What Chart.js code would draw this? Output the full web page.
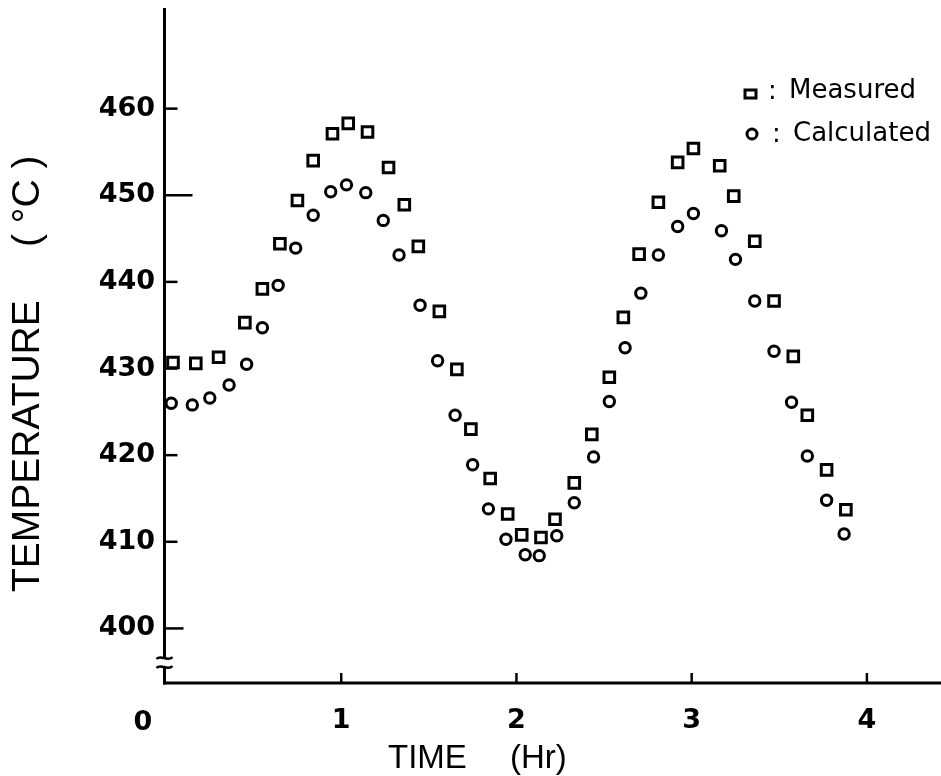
<!DOCTYPE html>
<html>
<head>
<meta charset="utf-8">
<title>Temperature vs time</title>
<script src="https://cdn.jsdelivr.net/npm/chart.js@4.4.1/dist/chart.umd.min.js"></script>
<style>
  html, body { margin: 0; padding: 0; background: #fff; }
  #wrap { width: 941px; height: 776px; }
</style>
</head>
<body>
<div id="wrap"><canvas id="chart" width="941" height="776"></canvas></div>
<script>
/**
 * Data (time in hours, temperature in °C)
 */
const measuredTime = [0.04, 0.17, 0.30, 0.45, 0.55, 0.65, 0.75, 0.84, 0.95, 1.04,
  1.15, 1.27, 1.36, 1.44, 1.56, 1.66, 1.74, 1.85, 1.95, 2.03,
  2.14, 2.22, 2.33, 2.43, 2.53, 2.61, 2.70, 2.81, 2.92, 3.01,
  3.16, 3.24, 3.36, 3.47, 3.58, 3.66, 3.77, 3.88];
const measuredTemp = [430.7, 430.6, 431.3, 435.3, 439.2, 444.4, 449.4, 454.0, 457.1, 458.3,
  457.3, 453.2, 448.9, 444.1, 436.6, 429.9, 423.0, 417.3, 413.2, 410.8,
  410.5, 412.6, 416.8, 422.4, 429.0, 435.9, 443.2, 449.2, 453.8, 455.4,
  453.4, 449.9, 444.7, 437.8, 431.4, 424.6, 418.3, 413.7];

const calculatedTime = [0.03, 0.15, 0.25, 0.36, 0.46, 0.55, 0.64, 0.74, 0.84, 0.94,
  1.03, 1.14, 1.24, 1.33, 1.45, 1.55, 1.65, 1.75, 1.84, 1.94,
  2.05, 2.13, 2.23, 2.33, 2.44, 2.53, 2.62, 2.71, 2.81, 2.92,
  3.01, 3.17, 3.25, 3.36, 3.47, 3.57, 3.66, 3.77, 3.87];
const calculatedTemp = [426.0, 425.8, 426.6, 428.1, 430.5, 434.7, 439.6, 443.9, 447.7, 450.4,
  451.2, 450.3, 447.1, 443.1, 437.3, 430.9, 424.6, 418.9, 413.8, 410.3,
  408.5, 408.4, 410.7, 414.5, 419.8, 426.2, 432.4, 438.7, 443.1, 446.4,
  447.9, 445.9, 442.6, 437.8, 432.0, 426.1, 419.9, 414.8, 410.9];

const xTicks = [0, 1, 2, 3, 4];
const yTicks = [400, 410, 420, 430, 440, 450, 460];

const seriesLabels = ['Measured', 'Calculated'];
const xTitle = ['TIME', '(Hr)'];
const yTitle = ['TEMPERATURE', '( °C )'];

/**
 * Axis ranges and the place where the y axis is broken
 */
const X_MIN = 0;
const X_MAX = 4.363;
const Y_MIN = 393.7;
const Y_MAX = 469.4;
const Y_BREAK = 396;

const TICK_FONT = { family: '"DejaVu Sans", sans-serif', size: 27, weight: 'bold' };

/**
 * Build scatter points from two parallel arrays
 */
function toPoints(xs, ys) {
  return xs.map((x, i) => ({ x: x, y: ys[i] }));
}

function strokeLine(ctx, x1, y1, x2, y2) {
  ctx.beginPath();
  ctx.moveTo(x1, y1);
  ctx.lineTo(x2, y2);
  ctx.stroke();
}

/**
 * Draws the hand-drawn style axes: thick lines, inward ticks,
 * the break mark on the y axis, axis titles and the legend.
 */
const axisDecor = {
  id: 'axisDecor',
  afterDraw(chart) {
    const { ctx, chartArea, scales } = chart;
    const x = scales.x;
    const y = scales.y;
    const x0 = chartArea.left - 1.5;
    const yb = chartArea.bottom;
    const by = y.getPixelForValue(Y_BREAK);

    ctx.save();
    ctx.strokeStyle = '#000';
    ctx.fillStyle = '#000';
    ctx.lineCap = 'butt';

    // y axis with break
    ctx.lineWidth = 3;
    strokeLine(ctx, x0, 8, x0, by - 5);
    strokeLine(ctx, x0, by + 4, x0, yb + 1.5);
    ctx.lineWidth = 2.5;
    [by - 5, by + 4].forEach(py => {
      ctx.beginPath();
      ctx.moveTo(x0 - 8, py + 1);
      ctx.bezierCurveTo(x0 - 4, py - 4, x0 + 3, py + 4, x0 + 8, py - 1);
      ctx.stroke();
    });

    // x axis runs to the edge of the picture
    ctx.lineWidth = 3;
    strokeLine(ctx, x0 - 1.5, yb, chart.width, yb);

    // inward ticks
    ctx.lineWidth = 2.5;
    yTicks.forEach(v => {
      const py = y.getPixelForValue(v);
      const len = v === 450 ? 28 : (v === 400 ? 19 : 13);
      strokeLine(ctx, x0, py, x0 + len, py);
    });
    xTicks.forEach(v => {
      if (v === 0) return;
      const px = x.getPixelForValue(v);
      strokeLine(ctx, px, yb, px, yb - 10);
    });

    // the "0" label sits left of the axis in the original
    ctx.font = `${TICK_FONT.weight} ${TICK_FONT.size}px ${TICK_FONT.family}`;
    ctx.textAlign = 'center';
    ctx.textBaseline = 'alphabetic';
    ctx.fillText('0', x.getPixelForValue(0) - 23, 730);

    // axis titles
    ctx.font = '33px "Liberation Sans", Arial, sans-serif';
    ctx.textAlign = 'left';
    ctx.fillText(xTitle[0], 388, 768);
    ctx.fillText(xTitle[1], 510, 768);

    ctx.save();
    ctx.translate(39, 592);
    ctx.rotate(-Math.PI / 2);
    ctx.font = '39px "Liberation Sans", Arial, sans-serif';
    ctx.fillText(yTitle[0], 0, 0);
    ctx.fillText(yTitle[1], 345, 0);
    ctx.restore();

    // legend
    ctx.lineWidth = 3;
    ctx.strokeRect(745, 90, 11, 8);
    ctx.beginPath();
    ctx.arc(752, 134, 5, 0, Math.PI * 2);
    ctx.stroke();
    ctx.font = '26px "DejaVu Sans", sans-serif';
    ctx.textAlign = 'left';
    ctx.fillText(':', 768, 99);
    ctx.fillText(seriesLabels[0], 789, 98);
    ctx.fillText(':', 772, 142);
    ctx.fillText(seriesLabels[1], 793, 141);

    ctx.restore();
  }
};

function createTemperatureChart(canvas) {
  const ctx = canvas.getContext('2d');

  const config = {
    type: 'scatter',
    data: {
      datasets: [
        {
          label: seriesLabels[0],
          data: toPoints(measuredTime, measuredTemp),
          pointStyle: 'rect',
          pointRadius: 7.5,
          borderWidth: 3,
          borderColor: '#000',
          backgroundColor: 'rgba(0,0,0,0)'
        },
        {
          label: seriesLabels[1],
          data: toPoints(calculatedTime, calculatedTemp),
          pointStyle: 'circle',
          pointRadius: 5.2,
          borderWidth: 3,
          borderColor: '#000',
          backgroundColor: 'rgba(0,0,0,0)'
        }
      ]
    },
    options: {
      responsive: false,
      animation: false,
      devicePixelRatio: 1,
      layout: { padding: 0 },
      plugins: {
        legend: { display: false },
        tooltip: { enabled: false }
      },
      scales: {
        x: {
          type: 'linear',
          min: X_MIN,
          max: X_MAX,
          grid: { display: false, drawTicks: false },
          border: { display: false },
          afterBuildTicks: scale => { scale.ticks = xTicks.map(v => ({ value: v })); },
          afterFit: scale => { scale.height = 93; },
          ticks: {
            autoSkip: false,
            maxRotation: 0,
            padding: 22,
            color: '#000',
            font: TICK_FONT,
            callback: value => (value === 0 ? '' : String(value))
          }
        },
        y: {
          type: 'linear',
          min: Y_MIN,
          max: Y_MAX,
          grid: { display: false, drawTicks: false },
          border: { display: false },
          afterBuildTicks: scale => { scale.ticks = yTicks.map(v => ({ value: v })); },
          afterFit: scale => { scale.width = 166; },
          ticks: {
            autoSkip: false,
            padding: 11,
            color: '#000',
            font: TICK_FONT
          }
        }
      }
    },
    plugins: [axisDecor]
  };

  return new Chart(ctx, config);
}

createTemperatureChart(document.getElementById('chart'));
</script>
</body>
</html>
